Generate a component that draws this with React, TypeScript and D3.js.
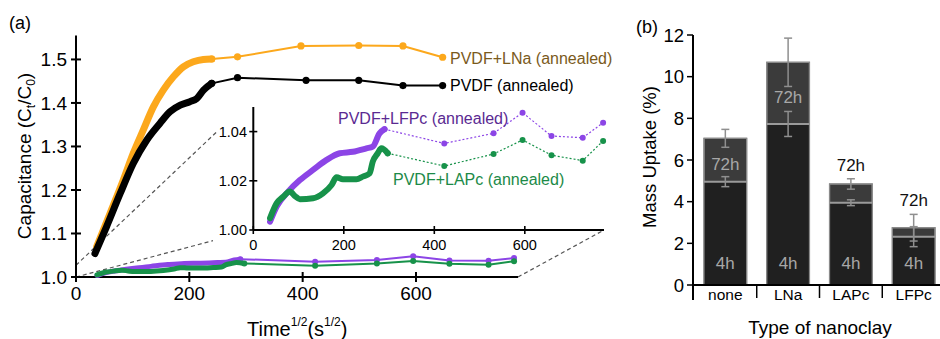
import React from 'react';
import * as d3 from 'd3';

// ---------- Panel (a) data: [time^1/2, C_t/C_0] ----------
const lnaCurve: [number, number][] = [
  [36.5, 1.07], [60, 1.146], [83.5, 1.223], [101, 1.284], [118.8, 1.338], [136.5, 1.391],
  [154, 1.4295], [171.8, 1.46], [189.4, 1.483], [207, 1.4945], [224.7, 1.5], [239.5, 1.501],
];
const lnaPoints: [number, number][] = [
  [239.5, 1.501], [285, 1.506], [397, 1.531], [499, 1.532], [577, 1.531], [647, 1.505],
];
const pvdfCurve: [number, number][] = [
  [33.5, 1.054], [54, 1.116], [78, 1.192], [101, 1.261], [125, 1.315], [148, 1.353],
  [166, 1.38], [184, 1.395], [201, 1.403], [213, 1.41], [225, 1.4295], [239.5, 1.445],
];
const pvdfPoints: [number, number][] = [
  [239.5, 1.445], [285, 1.458], [406, 1.452], [499, 1.452], [577, 1.44], [647, 1.44],
];
const lfpcCurve: [number, number][] = [
  [37, 1.0034], [51.5, 1.0095], [77, 1.0156], [103, 1.0203], [132, 1.0244], [162, 1.0285],
  [191, 1.0312], [220, 1.0318], [250, 1.0332], [264, 1.0339], [279, 1.0393], [290, 1.041],
];
const lfpcPoints: [number, number][] = [
  [290, 1.041], [422, 1.0352], [531, 1.0393], [595, 1.0477], [659, 1.0382], [728, 1.0375], [773, 1.0436],
];
const lapcCurve: [number, number][] = [
  [37, 1.0048], [51.5, 1.0108], [66, 1.0135], [81, 1.0156], [92, 1.0138], [103, 1.0125],
  [132, 1.0129], [154, 1.0149], [173, 1.0183], [184, 1.0214], [198, 1.0206], [228, 1.0206],
  [242, 1.0217], [257, 1.023], [264, 1.0278], [275, 1.0312], [283, 1.0332], [297, 1.0312],
];
const lapcPoints: [number, number][] = [
  [297, 1.0312], [422, 1.026], [531, 1.0309], [595, 1.0366], [659, 1.0304], [728, 1.0282], [773, 1.0362],
];
const mainXTicks = [0, 200, 400, 600];
const mainYTicks = [1.0, 1.1, 1.2, 1.3, 1.4, 1.5];
const insetXTicks = [0, 200, 400, 600];
const insetYTicks = [1.0, 1.02, 1.04];

// ---------- Panel (b) data ----------
const categories = ['none', 'LNa', 'LAPc', 'LFPc'];
const uptake4h = [4.96, 7.73, 3.95, 2.32];
const err4h = [0.24, 0.6, 0.14, 0.48];
const uptake72h = [7.04, 10.69, 4.85, 2.75];
const err72h = [0.43, 1.16, 0.25, 0.64];
const barYTicks = [0, 2, 4, 6, 8, 10, 12];

const FONT = '"Liberation Sans", Arial, Helvetica, sans-serif';
const ORANGE = '#fca81c';
const PURPLE = '#8c45e6';
const GREEN = '#17924a';

export default function App() {
  // main scales
  const x = d3.scaleLinear().domain([0, 780]).range([76, 518]);
  const y = d3.scaleLinear().domain([1.0, 1.555]).range([277, 35.5]);
  // inset scales
  const xi = d3.scaleLinear().domain([0, 775]).range([253.3, 604]);
  const yi = d3.scaleLinear().domain([1.0, 1.05]).range([230, 107]);

  const smooth = (sx: any, sy: any) =>
    d3.line<[number, number]>().x(d => sx(d[0])).y(d => sy(d[1])).curve(d3.curveMonotoneX);
  const straight = (sx: any, sy: any) =>
    d3.line<[number, number]>().x(d => sx(d[0])).y(d => sy(d[1]));

  const mSmooth = smooth(x, y);
  const mLine = straight(x, y);
  const iSmooth = smooth(xi, yi);
  const iLine = straight(xi, yi);

  // zoom guide lines
  const guide = (ax: number, ay: number, bx: number, by: number, stopX: number | null) => {
    if (stopX === null) return { x1: ax, y1: ay, x2: bx, y2: by };
    const t = (stopX - ax) / (bx - ax);
    return { x1: ax, y1: ay, x2: stopX, y2: ay + t * (by - ay) };
  };
  const g1 = guide(x(0), y(1.0), xi(0), yi(1.0), 213);
  const g2 = guide(x(0), y(1.027), xi(0), yi(1.054), 217);
  const g3 = guide(x(780), y(1.0), xi(775), yi(1.0), null);

  // bar scales
  const xb = d3.scaleBand().domain(categories).range([693, 946]).paddingInner(0.32).paddingOuter(0.175);
  const yb = d3.scaleLinear().domain([0, 12]).range([285, 35]);
  const bw = xb.bandwidth();
  const step = xb.step();

  const markers = (pts: [number, number][], sx: any, sy: any, color: string, r: number) =>
    pts.map((d, i) => <circle key={i} cx={sx(d[0])} cy={sy(d[1])} r={r} fill={color} />);

  return (
    <svg width={940} height={339} style={{ display: 'block', position: 'absolute', left: 0, top: 0 }} fontFamily={FONT}>
      <rect width={940} height={339} fill="#fff" />
      {/* ---------------- Panel (a) ---------------- */}
      <text x={9} y={29} fontSize={18}>(a)</text>

      {/* zoom guides */}
      {[g1, g2, g3].map((g, i) => (
        <line key={i} {...g} stroke="#555" strokeWidth={1.2} strokeDasharray="4,3" />
      ))}

      {/* main axes */}
      <line x1={x(0)} x2={x(780)} y1={y(1.0)} y2={y(1.0)} stroke="#000" strokeWidth={2} />
      <line x1={x(0)} x2={x(0)} y1={y(1.0)} y2={y(1.555)} stroke="#000" strokeWidth={2} />
      {mainXTicks.map(t => (
        <g key={t}>
          <line x1={x(t)} x2={x(t)} y1={y(1.0) - 5} y2={y(1.0) + 5} stroke="#000" strokeWidth={2} />
          <text x={x(t)} y={300} fontSize={19} textAnchor="middle">{t}</text>
        </g>
      ))}
      {mainYTicks.map(t => (
        <g key={t}>
          <line x1={x(0) - 5} x2={x(0) + 5} y1={y(t)} y2={y(t)} stroke="#000" strokeWidth={2} />
          <text x={67} y={y(t)} dy="0.35em" fontSize={19} textAnchor="end">{t.toFixed(1)}</text>
        </g>
      ))}
      <text transform="translate(31,156) rotate(-90)" fontSize={19} textAnchor="middle">
        Capacitance (C<tspan fontSize={12} dy={4}>t</tspan><tspan dy={-4}>/C</tspan>
        <tspan fontSize={12} dy={4}>0</tspan><tspan dy={-4}>)</tspan>
      </text>
      <text x={247} y={336} fontSize={20}>
        Time<tspan fontSize={12} dy={-10}>1/2</tspan><tspan dy={10}>(s</tspan>
        <tspan fontSize={12} dy={-10}>1/2</tspan><tspan dy={10}>)</tspan>
      </text>

      {/* main series */}
      <path d={mLine(lfpcPoints) || ''} fill="none" stroke={PURPLE} strokeWidth={2} />
      <path d={mSmooth(lfpcCurve) || ''} fill="none" stroke={PURPLE} strokeWidth={5} strokeLinecap="round" />
      {markers(lfpcPoints, x, y, PURPLE, 3)}
      <path d={mLine(lapcPoints) || ''} fill="none" stroke={GREEN} strokeWidth={2} />
      <path d={mSmooth(lapcCurve) || ''} fill="none" stroke={GREEN} strokeWidth={5} strokeLinecap="round" />
      {markers(lapcPoints, x, y, GREEN, 3)}

      <path d={mLine(lnaPoints) || ''} fill="none" stroke={ORANGE} strokeWidth={2} />
      <path d={mSmooth(lnaCurve) || ''} fill="none" stroke={ORANGE} strokeWidth={7} strokeLinecap="round" />
      {markers(lnaPoints, x, y, ORANGE, 3.6)}
      <path d={mLine(pvdfPoints) || ''} fill="none" stroke="#000" strokeWidth={2} />
      <path d={mSmooth(pvdfCurve) || ''} fill="none" stroke="#000" strokeWidth={7} strokeLinecap="round" />
      {markers(pvdfPoints, x, y, '#000', 3.6)}

      <text x={450} y={64} fontSize={16} fill="#7a5a1c">PVDF+LNa (annealed)</text>
      <text x={450} y={91} fontSize={16} fill="#000">PVDF (annealed)</text>

      {/* inset axes */}
      <line x1={xi(0)} x2={xi(775)} y1={yi(1.0)} y2={yi(1.0)} stroke="#000" strokeWidth={2} />
      <line x1={xi(0)} x2={xi(0)} y1={yi(1.0)} y2={yi(1.05)} stroke="#000" strokeWidth={2} />
      {insetXTicks.map(t => (
        <g key={t}>
          <line x1={xi(t)} x2={xi(t)} y1={yi(1.0) - 4} y2={yi(1.0) + 4} stroke="#000" strokeWidth={1.6} />
          <text x={xi(t)} y={250} fontSize={14.5} textAnchor="middle">{t}</text>
        </g>
      ))}
      {insetYTicks.map(t => (
        <g key={t}>
          <line x1={xi(0) - 4} x2={xi(0) + 4} y1={yi(t)} y2={yi(t)} stroke="#000" strokeWidth={1.6} />
          <text x={247} y={yi(t)} dy="0.35em" fontSize={14.5} textAnchor="end">{t.toFixed(2)}</text>
        </g>
      ))}

      {/* inset series */}
      <path d={iLine(lfpcPoints) || ''} fill="none" stroke={PURPLE} strokeWidth={1.2} strokeDasharray="2,2" />
      <path d={iSmooth(lfpcCurve) || ''} fill="none" stroke={PURPLE} strokeWidth={6} strokeLinecap="round" />
      {markers(lfpcPoints, xi, yi, PURPLE, 3)}
      <path d={iLine(lapcPoints) || ''} fill="none" stroke={GREEN} strokeWidth={1.2} strokeDasharray="2,2" />
      <path d={iSmooth(lapcCurve) || ''} fill="none" stroke={GREEN} strokeWidth={6} strokeLinecap="round" />
      {markers(lapcPoints, xi, yi, GREEN, 3)}

      <text x={338} y={124} fontSize={16} fill="#5a2a92">PVDF+LFPc (annealed)</text>
      <text x={393} y={185} fontSize={16} fill="#1c8a48">PVDF+LAPc (annealed)</text>

      {/* ---------------- Panel (b) ---------------- */}
      <text x={636} y={33} fontSize={18}>(b)</text>
      {categories.map((c, i) => {
        const bx = xb(c) as number;
        const cx = bx + bw / 2;
        const top72 = yb(uptake72h[i]);
        const top4 = yb(uptake4h[i]);
        const segH = top4 - top72;
        const errTop72 = yb(uptake72h[i] + err72h[i]);
        const label72Y = segH > 30 ? (top72 + top4) / 2 + 4 : errTop72 - 14;
        const label72Fill = segH > 30 ? '#a8a8a8' : '#111';
        return (
          <g key={c}>
            <rect x={bx} y={top72} width={bw} height={yb(0) - top72} fill="#3b3b3b" stroke="#8a8a8a" strokeWidth={1.2} />
            <rect x={bx} y={top4} width={bw} height={yb(0) - top4} fill="#202020" />
            <rect x={bx} y={top72} width={bw} height={yb(0) - top72} fill="none" stroke="#8a8a8a" strokeWidth={1.2} />
            <line x1={bx} x2={bx + bw} y1={top4} y2={top4} stroke="#9a9a9a" strokeWidth={2} />
            {/* error bars */}
            {[
              [uptake72h[i], err72h[i]],
              [uptake4h[i], err4h[i]],
            ].map(([v, e], k) => (
              <g key={k} stroke="#8f8f8f" strokeWidth={1.5}>
                <line x1={cx} x2={cx} y1={yb(v + e)} y2={yb(v - e)} />
                <line x1={cx - 4} x2={cx + 4} y1={yb(v + e)} y2={yb(v + e)} />
                <line x1={cx - 4} x2={cx + 4} y1={yb(v - e)} y2={yb(v - e)} />
              </g>
            ))}
            <text x={cx} y={label72Y} dy="0.35em" fontSize={17} textAnchor="middle" fill={label72Fill}>72h</text>
            <text x={cx} y={263} dy="0.35em" fontSize={17} textAnchor="middle" fill="#a8a8a8">4h</text>
            <text x={cx} y={300} fontSize={15.5} textAnchor="middle">{c}</text>
            {i < categories.length - 1 && (
              <line x1={bx + bw + (step - bw) / 2} x2={bx + bw + (step - bw) / 2} y1={yb(0)} y2={yb(0) + 13} stroke="#000" strokeWidth={1.5} />
            )}
          </g>
        );
      })}
      <line x1={693} x2={940} y1={yb(0)} y2={yb(0)} stroke="#000" strokeWidth={2} />
      <line x1={693} x2={693} y1={yb(12)} y2={yb(0) + 15} stroke="#000" strokeWidth={2} />
      {barYTicks.map(t => (
        <g key={t}>
          <line x1={687} x2={693} y1={yb(t)} y2={yb(t)} stroke="#000" strokeWidth={1.5} />
          <text x={684} y={yb(t)} dy="0.36em" fontSize={18.5} textAnchor="end">{t}</text>
        </g>
      ))}
      <text transform="translate(656,157) rotate(-90)" fontSize={18.5} textAnchor="middle">Mass Uptake (%)</text>
      <text x={820} y={334} fontSize={19} textAnchor="middle">Type of nanoclay</text>
    </svg>
  );
}
